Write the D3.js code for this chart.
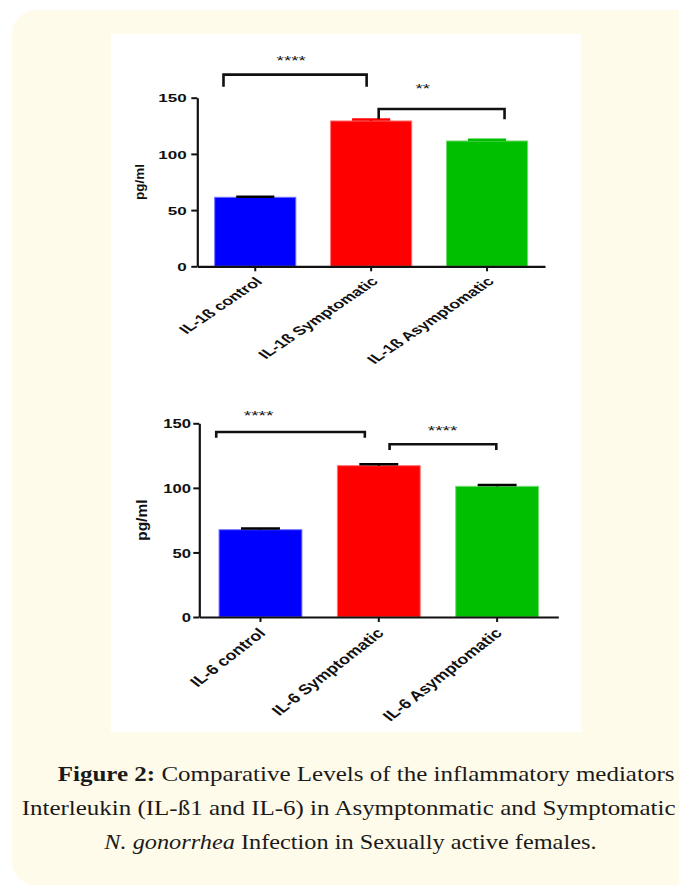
<!DOCTYPE html>
<html>
<head>
<meta charset="utf-8">
<script src="https://cdn.jsdelivr.net/npm/d3@7"></script>
<style>
  html, body { margin: 0; padding: 0; background: #ffffff; }
  svg { display: block; }
</style>
</head>
<body>
<svg id="fig" width="679" height="886"></svg>
<script>
// ---------------- DATA ----------------
const il1bCategories = ["IL-1ß control", "IL-1ß Symptomatic", "IL-1ß Asymptomatic"];
const il1bMeans = [61.4, 129.3, 111.5];
const il1bErrors = [0.4, 1.2, 1.2];
const il1bSignificance = ["****", "**"];

const il6Categories = ["IL-6 control", "IL-6 Symptomatic", "IL-6 Asymptomatic"];
const il6Means = [67.6, 117.2, 101.2];
const il6Errors = [1.0, 1.0, 1.0];
const il6Significance = ["****", "****"];

const yTicks = [0, 50, 100, 150];
const yLabel = "pg/ml";

const captionLine1Bold = "Figure 2:";
const captionLine1 = " Comparative Levels of the inflammatory mediators";
const captionLine2 = "Interleukin (IL-ß1 and IL-6) in Asymptonmatic and Symptomatic";
const captionLine3Italic = "N. gonorrhea";
const captionLine3 = " Infection in Sexually active females.";

// ---------------- LAYOUT ----------------
const svg = d3.select("#fig");
const ink = "#111111";
const barColors = ["#0000FF", "#FF0000", "#00BF00"];

// cream panel
svg.append("rect").attr("x", 12).attr("y", 10).attr("width", 740).attr("height", 875)
  .attr("rx", 24).attr("ry", 24).attr("fill", "#FFFBEA");
// white picture area
svg.append("rect").attr("x", 111).attr("y", 34).attr("width", 470).attr("height", 698)
  .attr("fill", "#FFFFFF");

function drawChart(cfg) {
  const g = svg.append("g");
  const y = d3.scaleLinear().domain([0, 150]).range([cfg.yBottom, cfg.yTop]);
  const x = d3.scaleBand().domain(cfg.categories).range([cfg.axisX, cfg.axisRight])
    .paddingInner(0.3).paddingOuter(cfg.outerPad);
  const step = x.step();
  const c0 = x(cfg.categories[0]) + x.bandwidth() / 2;
  const xi = d3.scaleLinear().domain([0, 1]).range([c0, c0 + step]);
  const data = cfg.categories.map((c, i) => ({ c, m: cfg.means[i], e: cfg.errors[i], i }));

  // bars
  g.selectAll("rect.bar").data(data).join("rect").attr("class", "bar")
    .attr("x", d => x(d.c)).attr("width", x.bandwidth())
    .attr("y", d => y(d.m)).attr("height", d => y(0) - y(d.m))
    .attr("fill", d => barColors[d.i])
    .attr("stroke", d => d3.interpolateRgb(barColors[d.i], "#ffffff")(0.45))
    .attr("stroke-width", 1);

  // error bars (mean + SEM)
  const capW = x.bandwidth() * 0.47;
  g.selectAll("line.stem").data(data).join("line")
    .attr("x1", d => x(d.c) + x.bandwidth() / 2).attr("x2", d => x(d.c) + x.bandwidth() / 2)
    .attr("y1", d => y(d.m)).attr("y2", d => y(d.m + d.e))
    .attr("stroke", d => cfg.capColors[d.i]).attr("stroke-width", 2.4);
  g.selectAll("line.cap").data(data).join("line")
    .attr("x1", d => x(d.c) + x.bandwidth() / 2 - capW / 2)
    .attr("x2", d => x(d.c) + x.bandwidth() / 2 + capW / 2)
    .attr("y1", d => y(d.m + d.e)).attr("y2", d => y(d.m + d.e))
    .attr("stroke", d => cfg.capColors[d.i]).attr("stroke-width", 2.5);

  // y axis
  const ya = g.append("g").attr("transform", `translate(${cfg.axisX},0)`)
    .call(d3.axisLeft(y).tickValues(yTicks).tickSize(6).tickSizeOuter(0));
  ya.select(".domain").attr("stroke", ink).attr("stroke-width", 2.2);
  ya.selectAll(".tick line").attr("stroke", ink).attr("stroke-width", 2);
  ya.selectAll(".tick text")
    .attr("x", -cfg.tickLabelGap / cfg.stretch).attr("dy", "0.36em")
    .attr("transform", `scale(${cfg.stretch},1)`)
    .attr("font-family", "Liberation Sans, Arial, sans-serif")
    .attr("font-weight", "bold").attr("font-size", cfg.tickFs).attr("fill", ink);

  // x axis
  const xa = g.append("g").attr("transform", `translate(0,${cfg.yBottom})`)
    .call(d3.axisBottom(x).tickSize(5).tickSizeOuter(0));
  xa.select(".domain").attr("stroke", ink).attr("stroke-width", 2.2);
  xa.selectAll(".tick line").attr("stroke", ink).attr("stroke-width", 2);
  xa.selectAll(".tick text")
    .attr("x", 0).attr("y", 0).attr("dy", 0)
    .attr("text-anchor", "end")
    .attr("transform", `translate(${cfg.labelDx},${cfg.labelDy}) scale(${cfg.stretch},1) rotate(-45)`)
    .attr("font-family", "Liberation Sans, Arial, sans-serif")
    .attr("font-weight", "bold").attr("font-size", cfg.fs).attr("fill", ink);

  // y title
  g.append("text")
    .attr("transform", `translate(${cfg.titleX},${(cfg.yTop + cfg.yBottom) / 2}) rotate(-90)`)
    .attr("text-anchor", "middle")
    .attr("font-family", "Liberation Sans, Arial, sans-serif")
    .attr("font-weight", "bold").attr("font-size", cfg.titleFs).attr("fill", ink)
    .text(yLabel);

  // significance brackets
  cfg.brackets.forEach((b, k) => {
    g.append("path")
      .attr("d", `M${xi(b.from)},${y(b.leg)}V${y(b.top)}H${xi(b.to)}V${y(b.leg)}`)
      .attr("fill", "none").attr("stroke", ink).attr("stroke-width", 2.6)
      .attr("stroke-linejoin", "miter");
    g.append("text")
      .attr("transform", `translate(${xi(b.lx)},${y(b.ly)}) scale(${cfg.starStretch},1)`)
      .attr("text-anchor", "middle").attr("dy", "0.57em")
      .attr("font-family", "Liberation Sans, Arial, sans-serif")
      .attr("font-size", cfg.starFs).attr("fill", ink)
      .text(cfg.significance[k]);
  });
}

drawChart({
  categories: il1bCategories, means: il1bMeans, errors: il1bErrors, significance: il1bSignificance,
  yBottom: 266.3, yTop: 97.7, axisX: 197.3, axisRight: 545, outerPad: 0.15,
  capColors: ["#000000", "#FF0000", "#00BF00"],
  stretch: 1.47, fs: 12.2, tickFs: 11.6, tickLabelGap: 10.6, labelDx: 8, labelDy: 16,
  titleX: 143.8, titleFs: 13.5,
  starStretch: 1.5, starFs: 12.5,
  brackets: [
    { from: -0.274, to: 0.961, top: 170.5, leg: 159.8, lx: 0.31, ly: 185 },
    { from: 1.065, to: 2.151, top: 140.0, leg: 130.8, lx: 1.446, ly: 160.6 }
  ]
});

drawChart({
  categories: il6Categories, means: il6Means, errors: il6Errors, significance: il6Significance,
  yBottom: 617, yTop: 423.3, axisX: 199.3, axisRight: 558.3, outerPad: 0.167,
  capColors: ["#000000", "#000000", "#000000"],
  stretch: 1.28, fs: 14, tickFs: 13, tickLabelGap: 8.3, labelDx: 6, labelDy: 17,
  titleX: 147.2, titleFs: 15.5,
  starStretch: 1.42, starFs: 13.5,
  brackets: [
    { from: -0.374, to: 0.882, top: 143.3, leg: 138.9, lx: -0.016, ly: 158.4 },
    { from: 1.091, to: 1.993, top: 133.8, leg: 129.3, lx: 1.539, ly: 146.8 }
  ]
});

// ---------------- CAPTION ----------------
const capFont = "Liberation Serif, 'Times New Roman', serif";
function captionLine(x0, baseline, parts, targetWidth) {
  const t = svg.append("text").attr("font-family", capFont).attr("font-size", 21.5)
    .attr("fill", "#1a1a1a");
  parts.forEach(p => {
    const s = t.append("tspan").text(p.text);
    if (p.bold) s.attr("font-weight", "bold");
    if (p.italic) s.attr("font-style", "italic");
  });
  const w = t.node().getComputedTextLength();
  const k = targetWidth / w;
  t.attr("transform", `translate(${x0},${baseline}) scale(${k},1)`);
}
captionLine(57.7, 781, [{ text: captionLine1Bold, bold: true }, { text: captionLine1 }], 617);
captionLine(21.7, 815, [{ text: captionLine2 }], 654);
captionLine(104.3, 849, [{ text: captionLine3Italic, italic: true }, { text: captionLine3 }], 492.4);
</script>
</body>
</html>
